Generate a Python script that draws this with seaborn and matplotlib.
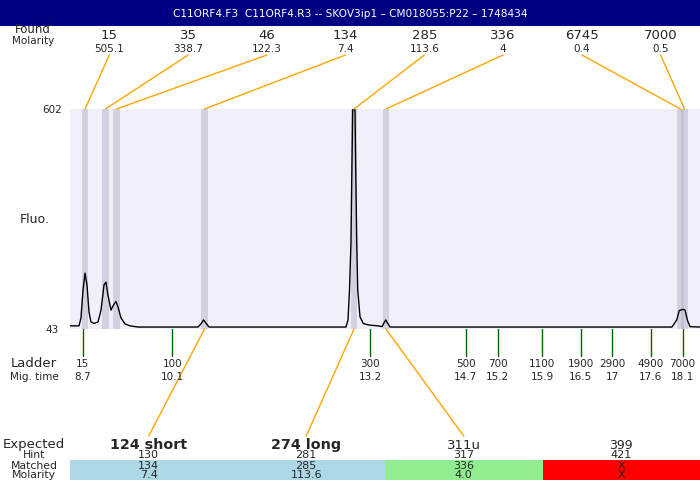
import matplotlib.pyplot as plt
import seaborn as sns

title = "C11ORF4.F3  C11ORF4.R3 -- SKOV3ip1 \u2013 CM018055:P22 \u2013 1748434"

# peaks found in the sample: size (bp), molarity, migration time
found_sizes = [15, 35, 46, 134, 285, 336, 6745, 7000]
found_molarity = ["505.1", "338.7", "122.3", "7.4", "113.6", "4", "0.4", "0.5"]
found_times = [8.734, 9.055, 9.227, 10.607, 12.950, 13.451, 18.066, 18.129]

# ladder
ladder_sizes = [15, 100, 300, 500, 700, 1100, 1900, 2900, 4900, 7000]
ladder_times = [8.7, 10.1, 13.2, 14.7, 15.2, 15.9, 16.5, 17, 17.6, 18.1]

# electropherogram trace (migration time, fluorescence)
trace_time = [8.499, 8.640, 8.671, 8.703, 8.734, 8.765, 8.797, 8.828, 8.875, 8.938,
              8.985, 9.032, 9.063, 9.094, 9.141, 9.181, 9.220, 9.251, 9.298, 9.361,
              9.439, 9.564, 10.505, 10.552, 10.591, 10.630, 10.677, 12.824, 12.856,
              12.879, 12.902, 12.918, 12.929, 12.965, 12.976, 12.992, 13.008, 13.044,
              13.095, 13.185, 13.326, 13.388, 13.446, 13.514, 17.933, 18.007, 18.047,
              18.110, 18.137, 18.173, 18.215, 18.372]
trace_fluo = [51, 51, 71, 142, 185, 155, 86, 61, 57, 61,
              91, 155, 162, 129, 91, 104, 113, 99, 71, 56,
              51, 48, 48, 56, 66, 58, 48, 48, 66,
              142, 262, 465, 600, 600, 455, 269, 142, 74,
              57, 53, 51, 49, 66, 48, 48, 66, 90,
              93, 91, 66, 49, 48]

# expected products table
expected_labels = ["124 short", "274 long", "311u", "399"]
expected_bold = [True, True, False, False]
expected_size = [10.3, 10.3, 9.5, 9]
hint_sizes = [130, 281, 317, 421]
matched_sizes = ["134", "285", "336", "X"]
matched_molarity = ["7.4", "113.6", "4.0", "X"]
matched_peak = [3, 4, 5, None]
matched_colors = ["lightblue", "lightblue", "lightgreen", "red"]

W, H = 700, 480
PL, PR, PT, PB = 70, 700, 109, 329
TMIN, TMAX = 8.499, 18.372
FMIN, FMAX = 43, 602

sns.set_style("white")
plt.rcParams['font.family'] = ['DejaVu Sans']

fig = plt.figure(figsize=(7, 4.8), dpi=100)

# main trace axes
ax = fig.add_axes([PL / W, (H - PB) / H, (PR - PL) / W, (PB - PT) / H])
ax.set_facecolor('#f0f0fb')
for t in found_times:
    ax.axvspan(t - 0.05, t + 0.05, color='#b4b4c8', alpha=0.5, lw=0)
sns.lineplot(x=trace_time, y=trace_fluo, ax=ax, color='black', lw=1.0,
             estimator=None, sort=False)
ax.set_xlim(TMIN, TMAX)
ax.set_ylim(FMIN, FMAX)
ax.set_xticks([])
ax.set_yticks([])
ax.set_xlabel('')
ax.set_ylabel('')
sns.despine(ax=ax, left=True, bottom=True)

# overlay in pixel units for annotations
ov = fig.add_axes([0, 0, 1, 1], zorder=5)
ov.set_xlim(0, W)
ov.set_ylim(H, 0)
ov.patch.set_alpha(0)
ov.axis('off')


def tx(t):
    lo, hi = ax.get_xlim()
    return PL + (t - lo) / (hi - lo) * (PR - PL)


def fy(f):
    lo, hi = ax.get_ylim()
    return PB - (f - lo) / (hi - lo) * (PB - PT)


# title bar
ov.axhspan(0, 26, color='#000080', lw=0)
ov.text(W / 2, 16.7, title, color='white', ha='center', va='baseline', fontsize=7.6)

# found labels on top
ov.text(33, 33, "Found", ha='center', va='baseline', fontsize=8.5)
ov.text(33, 44, "Molarity", ha='center', va='baseline', fontsize=7.5)
ncol = len(found_sizes)
for i, (s, m, t) in enumerate(zip(found_sizes, found_molarity, found_times)):
    cx = PL + (i + 0.5) * (PR - PL) / ncol
    ov.text(cx, 39, str(s), ha='center', va='baseline', fontsize=9.5)
    ov.text(cx, 52, m, ha='center', va='baseline', fontsize=7.5)
    ov.plot([cx, tx(t)], [55, PT], color='orange', lw=1)

# y labels
ov.text(52, fy(FMAX) + 4, str(FMAX), ha='center', va='baseline', fontsize=7.5)
ov.text(52, fy(FMIN) + 4, str(FMIN), ha='center', va='baseline', fontsize=7.5)
ov.text(35, 223, "Fluo.", ha='center', va='baseline', fontsize=9)

# ladder
ov.text(34, 367, "Ladder", ha='center', va='baseline', fontsize=9.5)
ov.text(34, 380.5, "Mig. time", ha='center', va='baseline', fontsize=7.5)
for s, t in zip(ladder_sizes, ladder_times):
    x = tx(t)
    ov.plot([x, x], [PB, 356], color='#006400', lw=1)
    ov.text(x, 367, str(s), ha='center', va='baseline', fontsize=7.5)
    ov.text(x, 380.5, f"{t:g}", ha='center', va='baseline', fontsize=7.5)

# expected table
ov.text(34, 448, "Expected", ha='center', va='baseline', fontsize=9.5)
ov.text(34, 458.5, "Hint", ha='center', va='baseline', fontsize=7.8)
ov.text(34, 469, "Matched", ha='center', va='baseline', fontsize=7.8)
ov.text(34, 478.5, "Molarity", ha='center', va='baseline', fontsize=7.8)
ne = len(expected_labels)
cw = (PR - PL) / ne
for i in range(ne):
    x0 = PL + i * cw
    cx = x0 + cw / 2
    ov.fill_between([x0, x0 + cw], 460, 480, color=matched_colors[i], lw=0)
    ov.text(cx, 449, expected_labels[i], ha='center', va='baseline',
            fontsize=expected_size[i],
            fontweight='bold' if expected_bold[i] else 'normal')
    ov.text(cx, 458.5, str(hint_sizes[i]), ha='center', va='baseline', fontsize=8)
    ov.text(cx, 469, matched_sizes[i], ha='center', va='baseline', fontsize=8)
    ov.text(cx, 478.5, matched_molarity[i], ha='center', va='baseline', fontsize=8)
    if matched_peak[i] is not None:
        ov.plot([cx, tx(found_times[matched_peak[i]])], [436, PB], color='orange', lw=1)

fig.savefig('out.png', dpi=100)
